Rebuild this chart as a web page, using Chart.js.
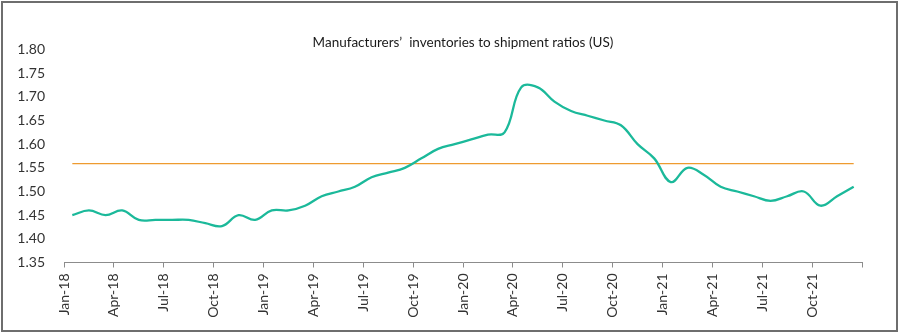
<!DOCTYPE html>
<html>
<head>
<meta charset="utf-8">
<script src="https://cdn.jsdelivr.net/npm/chart.js@4.4.1/dist/chart.umd.min.js"></script>
<style>
  html, body { margin: 0; padding: 0; background: #fff; }
  #wrap { position: relative; width: 900px; height: 333px; }
  #frame { position: absolute; left: 1px; top: 1px; width: 897px; height: 331px; box-sizing: border-box; border: 2px solid #6e6e6e; pointer-events: none; }
  canvas { position: absolute; left: 0; top: 0; }
</style>
</head>
<body>
<div id="wrap">
  <canvas id="c" width="900" height="333"></canvas>
  <div id="frame"></div>
</div>
<script>
const chartTitle = "Manufacturers\u2019  inventories to shipment ratios (US)";
const months = ["Jan-18","Feb-18","Mar-18","Apr-18","May-18","Jun-18","Jul-18","Aug-18","Sep-18","Oct-18","Nov-18","Dec-18",
  "Jan-19","Feb-19","Mar-19","Apr-19","May-19","Jun-19","Jul-19","Aug-19","Sep-19","Oct-19","Nov-19","Dec-19",
  "Jan-20","Feb-20","Mar-20","Apr-20","May-20","Jun-20","Jul-20","Aug-20","Sep-20","Oct-20","Nov-20","Dec-20",
  "Jan-21","Feb-21","Mar-21","Apr-21","May-21","Jun-21","Jul-21","Aug-21","Sep-21","Oct-21","Nov-21","Dec-21"];
const ratio = [1.45,1.46,1.45,1.46,1.44,1.44,1.44,1.44,1.433,1.427,1.45,1.44,
  1.46,1.46,1.47,1.49,1.50,1.51,1.53,1.54,1.55,1.57,1.59,1.60,
  1.61,1.62,1.625,1.72,1.72,1.69,1.67,1.66,1.65,1.64,1.60,1.57,
  1.52,1.55,1.535,1.51,1.50,1.49,1.48,1.49,1.50,1.47,1.49,1.51];
const averageLevel = 1.559;
const tickLabels = ["Jan-18","Apr-18","Jul-18","Oct-18","Jan-19","Apr-19","Jul-19","Oct-19",
  "Jan-20","Apr-20","Jul-20","Oct-20","Jan-21","Apr-21","Jul-21","Oct-21",""];
const yTicks = [1.35,1.40,1.45,1.50,1.55,1.60,1.65,1.70,1.75,1.80];

const FONT = "Lato, 'Open Sans', sans-serif";

const ratioPts = ratio.map((v, i) => ({ x: i + 0.5, y: v }));
const avgPts = months.map((m, i) => ({ x: i + 0.5, y: averageLevel }));

const titlePlugin = {
  id: 'centeredTitle',
  afterDraw(chart) {
    const ctx = chart.ctx;
    const a = chart.chartArea;
    ctx.save();
    ctx.font = "13.5px " + FONT;
    ctx.fillStyle = "#1a1a1a";
    ctx.textAlign = "center";
    ctx.textBaseline = "middle";
    ctx.fillText(chartTitle, (a.left + a.right) / 2, 43);
    ctx.restore();
  }
};

new Chart(document.getElementById('c'), {
  type: 'line',
  data: {
    datasets: [
      { label: 'Ratio', data: ratioPts, borderColor: '#1bb99a', borderWidth: 2.3, pointRadius: 0, tension: 0.4, fill: false },
      { label: 'Average', data: avgPts, borderColor: '#ee9b30', borderWidth: 1.2, pointRadius: 0, tension: 0, fill: false }
    ]
  },
  options: {
    responsive: false,
    animation: false,
    devicePixelRatio: 1,
    layout: { padding: { top: 49.5, right: 38, left: 0, bottom: 0 } },
    plugins: { legend: { display: false }, title: { display: false }, tooltip: { enabled: false } },
    scales: {
      x: {
        type: 'linear',
        min: 0, max: 48,
        afterBuildTicks(scale) { scale.ticks = tickLabels.map((t, i) => ({ value: i * 3 })); },
        afterFit(scale) { scale.height = 333 - 262.5; },
        ticks: {
          autoSkip: false, maxRotation: 90, minRotation: 90, padding: 6,
          font: { family: FONT, size: 14 }, color: '#333',
          callback: (v) => tickLabels[Math.round(v / 3)]
        },
        grid: { drawOnChartArea: false, drawTicks: true, tickLength: 5, color: '#8c8c8c', lineWidth: 1 },
        border: { display: true, color: '#8c8c8c', width: 1 }
      },
      y: {
        type: 'linear',
        min: 1.35, max: 1.80,
        afterBuildTicks(scale) { scale.ticks = yTicks.map(v => ({ value: v })); },
        afterFit(scale) { scale.width = 64; },
        ticks: { padding: 11, font: { family: FONT, size: 14 }, color: '#333', callback: (v) => v.toFixed(2) },
        grid: { display: false },
        border: { display: false }
      }
    }
  },
  plugins: [titlePlugin]
});
</script>
</body>
</html>
